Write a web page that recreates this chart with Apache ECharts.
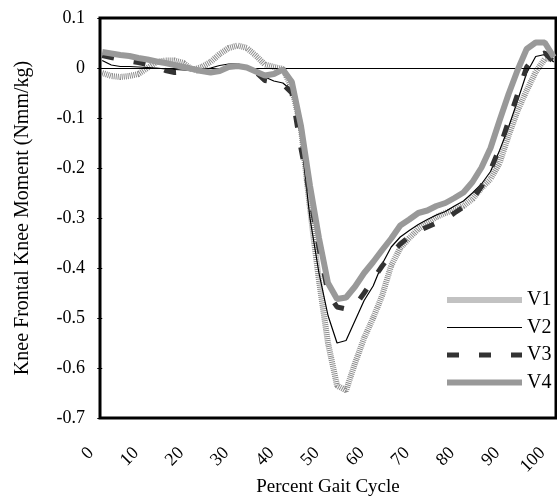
<!DOCTYPE html>
<html><head><meta charset="utf-8">
<script src="https://cdn.jsdelivr.net/npm/echarts@6/dist/echarts.min.js"></script>
<style>html,body{margin:0;padding:0;background:#fff}#c{width:557px;height:497px}</style>
</head><body><div id="c"></div>
<script>
// Percent gait cycle sample positions
const xs = [0,2,4,6,8,10,12,14,16,18,20,22,24,26,28,30,32,34,36,38,40,42,44,46,48,50,
            52,54,56,58,60,62,64,66,68,70,72,74,76,78,80,82,84,86,88,90,92,94,96,98,100];
const v1 = [-0.010,-0.016,-0.018,-0.016,-0.012,0.000,0.012,0.015,0.015,0.010,-0.004,0.002,0.012,0.028,0.040,0.045,0.040,0.025,0.007,0.002,-0.002,
            -0.040,-0.120,-0.280,-0.425,-0.550,-0.635,-0.645,-0.590,-0.540,-0.500,-0.455,-0.395,-0.360,-0.340,-0.322,-0.310,-0.298,-0.290,-0.283,-0.276,
            -0.262,-0.240,-0.222,-0.190,-0.135,-0.085,-0.045,-0.008,0.018,0.020];
const v2 = [0.015,0.006,0.003,0.003,0.002,0.001,0.000,-0.002,-0.003,-0.004,-0.005,-0.004,0.000,0.005,0.008,0.008,0.002,-0.008,-0.018,-0.026,-0.030,
            -0.045,-0.140,-0.300,-0.410,-0.495,-0.550,-0.545,-0.505,-0.465,-0.436,-0.392,-0.358,-0.338,-0.325,-0.313,-0.303,-0.294,-0.287,-0.276,-0.266,
            -0.250,-0.232,-0.207,-0.165,-0.118,-0.065,-0.010,0.023,0.027,0.012];
const v3 = [0.025,0.021,0.017,0.014,0.011,0.007,0.003,-0.005,-0.009,-0.008,-0.006,-0.005,-0.004,-0.001,0.003,0.004,0.002,-0.008,-0.025,-0.028,-0.032,
            -0.050,-0.160,-0.255,-0.360,-0.450,-0.478,-0.482,-0.475,-0.450,-0.423,-0.396,-0.372,-0.352,-0.337,-0.326,-0.318,-0.310,-0.303,-0.290,-0.278,
            -0.262,-0.237,-0.204,-0.160,-0.106,-0.052,0.002,0.025,0.030,0.012];
const v4 = [0.032,0.029,0.026,0.024,0.020,0.017,0.013,0.010,0.006,0.002,-0.002,-0.006,-0.009,-0.006,0.002,0.004,0.001,-0.007,-0.015,-0.012,-0.003,
            -0.028,-0.115,-0.235,-0.340,-0.430,-0.462,-0.459,-0.437,-0.410,-0.388,-0.364,-0.341,-0.315,-0.303,-0.290,-0.285,-0.276,-0.270,-0.260,-0.249,
            -0.228,-0.199,-0.160,-0.105,-0.052,-0.004,0.038,0.051,0.051,0.022];
const seriesNames = ['V1','V2','V3','V4'];

const FONT = 'Liberation Serif';
const pairs = arr => xs.map((x, i) => [x, arr[i]]);

const chart = echarts.init(document.getElementById('c'), null, {renderer: 'canvas'});
chart.setOption({
  animation: false,
  backgroundColor: '#fff',
  grid: {left: 100, top: 18, right: 1, bottom: 79, show: true, borderColor: '#000', borderWidth: 3,
         backgroundColor: 'transparent', containLabel: false, outerBoundsMode: 'none'},
  legend: {
    orient: 'vertical', left: 444, top: 290, padding: 0,
    itemWidth: 75, itemHeight: 20, itemGap: 7.5,
    itemStyle: {opacity: 0},
    textStyle: {fontFamily: FONT, fontSize: 20, color: '#000'},
    data: [
      {name: seriesNames[0], lineStyle: {type: 'solid', color: '#c2c2c2', width: 6}},
      {name: seriesNames[1], lineStyle: {type: 'solid', color: '#000', width: 1.2}},
      {name: seriesNames[2], lineStyle: {type: [12, 20], color: '#333', width: 5}},
      {name: seriesNames[3], lineStyle: {type: 'solid', color: '#999', width: 6}}
    ]
  },
  xAxis: {
    type: 'value', min: -0.5, max: 100.5, splitNumber: 10,
    splitLine: {show: false}, axisLine: {show: false, onZero: false}, axisTick: {show: false},
    axisLabel: {
      rotate: 45, margin: 21, padding: [0, 16, 0, 0], color: '#000', fontFamily: FONT, fontSize: 18,
      showMinLabel: false, showMaxLabel: false,
      formatter: v => (Math.abs(v % 10) < 1e-9 ? String(v) : '')
    },
    name: 'Percent Gait Cycle', nameLocation: 'middle', nameGap: 60, nameMoveOverlap: false,
    nameTextStyle: {fontFamily: FONT, fontSize: 19, color: '#000'}
  },
  yAxis: {
    type: 'value', min: -0.7, max: 0.1, interval: 0.1,
    splitLine: {show: false}, axisLine: {show: false},
    axisTick: {show: true, length: 5, lineStyle: {color: '#000', width: 1}},
    axisLabel: {
      margin: 15, color: '#000', fontFamily: FONT, fontSize: 18,
      formatter: v => String(Math.round(v * 10) / 10)
    },
    name: 'Knee Frontal Knee Moment (Nmm/kg)', nameLocation: 'middle', nameGap: 67, nameRotate: 90,
    nameMoveOverlap: false,
    nameTextStyle: {fontFamily: FONT, fontSize: 20, color: '#000'}
  },
  series: [
    {name: 'V1', type: 'line', data: pairs(v1), symbol: 'none', z: 2,
     lineStyle: {color: '#8c8c8c', width: 6, type: [1, 1]},
     markLine: {silent: true, symbol: 'none', label: {show: false},
                lineStyle: {color: '#000', width: 1, type: 'solid'}, data: [{yAxis: 0}]}},
    {name: 'V2', type: 'line', data: pairs(v2), symbol: 'none', z: 3,
     lineStyle: {color: '#000', width: 1.2}},
    {name: 'V3', type: 'line', data: pairs(v3), symbol: 'none', z: 4,
     lineStyle: {color: '#333', width: 5, type: [12, 20]}},
    {name: 'V4', type: 'line', data: pairs(v4), symbol: 'none', z: 5,
     lineStyle: {color: '#999', width: 6}}
  ]
});
</script>
</body></html>
